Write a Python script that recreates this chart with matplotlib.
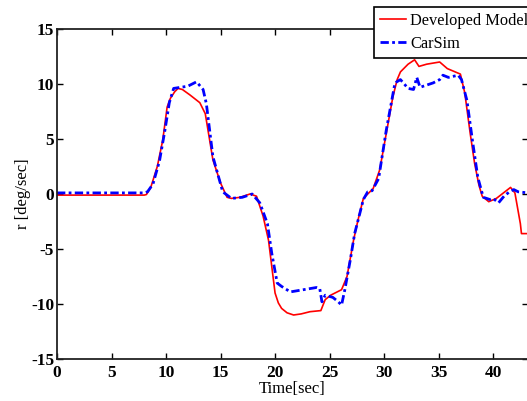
import numpy as np
import matplotlib
matplotlib.use("Agg")
import matplotlib.pyplot as plt

# Developed Model (red, solid)
t_model = [0, 2, 4, 6, 8.0, 8.2, 8.6, 9.2, 9.7, 10.1, 10.4, 10.8, 11.1, 11.5, 12.2, 13.1, 13.6, 14.3, 15.0,
           15.6, 16.0, 16.8, 17.7, 18.3, 18.9, 19.4, 19.7, 20.0, 20.3, 20.6, 21.1, 21.7, 22.4, 23.2, 24.2,
           24.6, 25.1, 26.1, 26.6, 27.2, 27.6, 28.1, 29.0, 29.6, 30.2, 30.8, 31.2, 31.5, 32.2, 32.8,
           33.2, 33.9, 35.1, 35.8, 37.0, 37.4, 37.9, 38.3, 38.7, 39.0, 39.6, 40.3, 41.6, 42.0,
           42.5, 42.6, 43.2]
r_model = [-0.1, -0.1, -0.1, -0.1, -0.1, -0.05, 0.6, 2.5, 4.9, 7.9, 8.7, 9.3, 9.6, 9.5, 9.0, 8.3, 7.3, 3.1, 1.0,
           -0.3, -0.4, -0.3, 0.0, -0.2, -2.0, -4.2, -6.6, -9.0, -9.9, -10.4, -10.8, -11.0, -10.9, -10.7, -10.6,
           -9.6, -9.2, -8.7, -7.5, -4.2, -2.4, -0.4, 0.5, 2.2, 5.5, 8.8, 10.4, 11.1, 11.8, 12.2,
           11.6, 11.8, 12.0, 11.4, 10.9, 9.2, 5.5, 2.8, 0.8, -0.2, -0.7, -0.4, 0.6, 0.1,
           -2.7, -3.6, -3.6]

# CarSim (blue, dash-dot)
t_carsim = [0, 2, 4, 6, 8.0, 8.3, 8.8, 9.4, 9.9, 10.3, 10.7, 12.0, 12.8, 13.4, 13.7, 14.3, 15.2,
            16.0, 17.0, 17.9, 18.6, 19.3, 19.7, 20.2, 20.6, 21.4, 23.8, 24.1, 24.3, 24.6,
            25.3, 25.8, 26.1, 26.4, 26.9, 27.3, 28.1, 28.5, 28.9, 29.5, 30.2, 31.0, 31.5,
            32.2, 32.7, 33.0, 33.3, 34.5, 35.1, 35.4, 35.9, 36.8, 37.1, 37.6, 38.1, 38.6,
            39.1, 39.7, 40.0, 40.5, 41.0, 41.5, 41.9, 42.3, 43.2]
r_carsim = [0.1, 0.1, 0.1, 0.1, 0.1, 0.2, 0.9, 3.0, 5.8, 8.3, 9.6, 9.8, 10.2, 9.5, 8.2, 3.4, 0.2,
            -0.4, -0.3, 0.0, -0.8, -2.7, -5.4, -8.1, -8.4, -8.9, -8.5, -8.6, -9.8, -9.2,
            -9.4, -9.8, -10.1, -8.7, -6.0, -3.6, -0.5, 0.2, 0.3, 1.4, 5.8, 10.1, 10.4,
            9.6, 9.5, 10.6, 9.7, 10.1, 10.4, 10.8, 10.6, 10.8, 10.4, 8.5, 4.9, 1.5,
            -0.3, -0.5, -0.4, -0.8, -0.2, 0.2, 0.4, 0.2, 0.1]

x_ticks = [0, 5, 10, 15, 20, 25, 30, 35, 40]
y_ticks = [-15, -10, -5, 0, 5, 10, 15]

plt.rcParams['font.family'] = ['Liberation Serif', 'DejaVu Serif']
plt.rcParams['axes.unicode_minus'] = False

fig = plt.figure(figsize=(5.27, 4.01), dpi=100)
ax = fig.add_axes([57 / 527, 1 - 359 / 401, 471 / 527, 330 / 401])

ax.plot(t_model, r_model, color='#ff0000', linewidth=1.2, label='Developed Model')
ax.plot(t_carsim, r_carsim, color='#0000ff', linewidth=2.0, linestyle=(0, (3, 1.2, 1, 1.2)),
        label='CarSim')

ax.set_xlim(0, 43.2)
ax.set_ylim(-15, 15)
ax.set_xticks(x_ticks)
ax.set_yticks(y_ticks)
ax.tick_params(direction='in', top=True, right=True, length=4, width=1, labelsize=12.5)
ax.tick_params(axis='x', pad=4)
ax.tick_params(axis='y', pad=2)
for lab in ax.get_xticklabels() + ax.get_yticklabels():
    lab.set_fontweight('bold')
for s in ax.spines.values():
    s.set_linewidth(1.3)
    s.set_color('#222222')

ax.set_xlabel('Time[sec]', fontsize=12, labelpad=0)
ax.set_ylabel('r [deg/sec]', fontsize=12, labelpad=0)

leg = ax.legend(loc='upper left', bbox_to_anchor=(374 / 527, 1 - 7 / 401),
                bbox_transform=fig.transFigure, fancybox=False, framealpha=1,
                edgecolor='black', fontsize=11.8, handlelength=1.6,
                borderpad=0.35, labelspacing=0.45, handletextpad=0.25, borderaxespad=0)
leg.get_frame().set_linewidth(1.2)

fig.savefig('out.png', dpi=100)
